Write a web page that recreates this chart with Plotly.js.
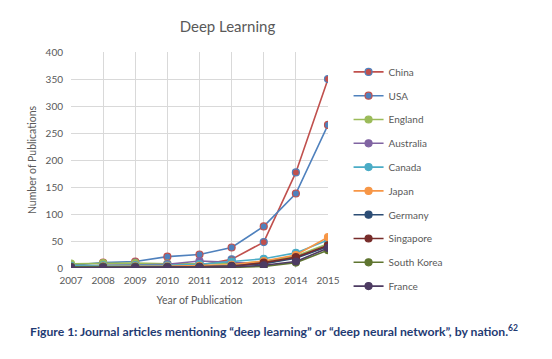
<!DOCTYPE html>
<html><head><meta charset="utf-8">
<script src="https://cdn.plot.ly/plotly-3.0.1.min.js"></script>
<style>body{margin:0;background:#fff}#c{width:552px;height:359px}</style>
</head><body><div id="c"></div>
<script>
const years = [2007, 2008, 2009, 2010, 2011, 2012, 2013, 2014, 2015];
const countries = ["China", "USA", "England", "Australia", "Canada", "Japan", "Germany", "Singapore", "South Korea", "France"];
const china      = [2, 5, 5, 5, 5, 16, 48, 177, 350];
const usa        = [5, 10, 12, 21, 25, 38, 77, 138, 265];
const england    = [8, 9, 9, 8, 8, 8, 12, 22, 45];
const australia  = [3, 4, 5, 7, 13, 10, 8, 20, 40];
const canada     = [4, 5, 5, 5, 7, 12, 17, 28, 52];
const japan      = [2, 3, 3, 3, 4, 6, 13, 24, 57];
const germany    = [1, 2, 2, 2, 2, 4, 8, 18, 40];
const singapore  = [1, 1, 1, 1, 2, 3, 10, 20, 42];
const southKorea = [2, 2, 2, 1, 1, 1, 3, 10, 33];
const france     = [1, 1, 1, 1, 1, 2, 5, 12, 37];
const series = [china, usa, england, australia, canada, japan, germany, singapore, southKorea, france];

const lineColors = ["#C0504D", "#4F81BD", "#9BBB59", "#8064A2", "#4BACC6", "#F79646", "#2C4D75", "#772C2A", "#5F7530", "#4D3B62"];
const fillColors = ["#C0504D", "#4F81BD", "#9BBB59", "#8064A2", "#4BACC6", "#F79646", "#2C4D75", "#772C2A", "#5F7530", "#4D3B62"];
const edgeColors = ["#4F81BD", "#C0504D", "#9BBB59", "#8064A2", "#4BACC6", "#F79646", "#2C4D75", "#772C2A", "#5F7530", "#4D3B62"];

const FONT = "Lato, 'Open Sans', sans-serif";
const traces = countries.map((name, i) => ({
  type: "scatter", mode: "lines+markers", name: name,
  x: years, y: series[i], legendgroup: "g" + i,
  line: {color: lineColors[i], width: 1.6},
  marker: {size: 7, color: fillColors[i], line: {color: edgeColors[i], width: 1.2}}
}));

const layout = {
  width: 552, height: 359,
  paper_bgcolor: "#fff", plot_bgcolor: "#fff",
  margin: {l: 71, r: 224, t: 52, b: 91},
  font: {family: FONT, color: "#595959", size: 10},
  title: {text: "Deep Learning", font: {family: FONT, size: 15, color: "#595959"},
          x: 0.412, xanchor: "center", y: 0.925, yanchor: "middle"},
  xaxis: {
    range: [2007, 2015], tickmode: "array", tickvals: years, ticktext: years.map(String),
    showgrid: true, gridcolor: "#D9D9D9", gridwidth: 1, zeroline: false,
    showline: false, ticks: "", ticklabelstandoff: 5, tickfont: {size: 10, color: "#595959"},
    title: {text: "Year of Publication", font: {size: 10.5, color: "#595959"}, standoff: 11}
  },
  yaxis: {
    range: [0, 400], dtick: 50, showgrid: true, gridcolor: "#D9D9D9", gridwidth: 1,
    zeroline: false, showline: false, ticks: "", ticklen: 0, ticklabelstandoff: 7,
    tickfont: {size: 10, color: "#595959"},
    title: {text: "Number of Publications", font: {size: 10.5, color: "#595959"}, standoff: 6}
  },
  showlegend: true,
  legend: {
    x: 1.08, xanchor: "left", y: 0.975, yanchor: "top",
    traceorder: "grouped", tracegroupgap: 4.8, maxheight: 400,
    font: {size: 10, color: "#595959"}, itemwidth: 30,
    bgcolor: "rgba(0,0,0,0)"
  },
  annotations: [{
    xref: "paper", yref: "paper", x: 0.79, y: -0.29, xanchor: "center", yanchor: "middle",
    showarrow: false,
    text: "<b>Figure 1: Journal articles mentioning “deep learning” or “deep neural network”, by nation.<sup>62</sup></b>",
    font: {family: "Lato, sans-serif", size: 12.2, color: "#1F3B73"}
  }]
};
Plotly.newPlot("c", traces, layout, {displayModeBar: false, staticPlot: true});
</script></body></html>
